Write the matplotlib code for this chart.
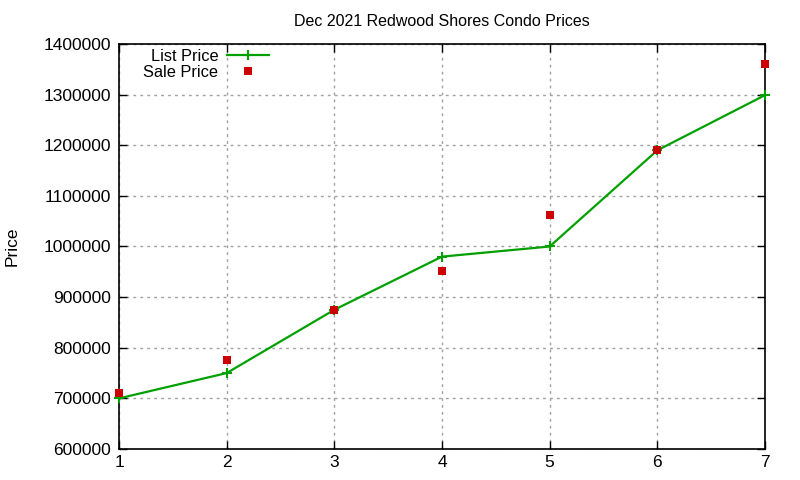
import matplotlib
matplotlib.use("Agg")
import matplotlib.pyplot as plt
from matplotlib.ticker import FixedLocator

plt.rcParams['font.family'] = ['Liberation Sans', 'DejaVu Sans']

# unit number along the x axis
units = [1, 2, 3, 4, 5, 6, 7]
list_price = [700000, 750000, 875000, 980000, 1000000, 1190000, 1299000]
sale_price = [711000, 775000, 875000, 951000, 1062000, 1191000, 1360000]

x_ticks = [1, 2, 3, 4, 5, 6, 7]
y_ticks = [600000, 700000, 800000, 900000, 1000000, 1100000, 1200000, 1300000, 1400000]

fig = plt.figure(figsize=(8, 4.8), dpi=100)
ax = fig.add_axes([119 / 800, 1 - 449 / 480, (765 - 119) / 800, (449 - 44) / 480])

ax.plot(units, list_price, color='#00a000', linewidth=1.6, marker='+',
        markersize=7, markeredgewidth=1.5, label='List Price', clip_on=False, zorder=3)
ax.plot(units, sale_price, linestyle='none', color='#cc0000', marker='s',
        markersize=6, markeredgewidth=0, label='Sale Price', clip_on=False, zorder=4)

ax.set_xlim(1, 7)
ax.set_ylim(600000, 1400000)
ax.xaxis.set_major_locator(FixedLocator(x_ticks))
ax.yaxis.set_major_locator(FixedLocator(y_ticks))
ax.set_yticklabels([str(v) for v in y_ticks])
ax.tick_params(direction='in', length=6, width=1, labelsize=12.5, top=True, right=True,
               colors='black')
ax.tick_params(axis='x', pad=4)
ax.tick_params(axis='y', pad=6)
ax.grid(True, color='#a0a0a0', linestyle=(0, (2, 3)), linewidth=1)
for s in ax.spines.values():
    s.set_linewidth(1.2)

ax.set_title('Dec 2021 Redwood Shores Condo Prices', fontsize=11.5, pad=13)
fig.text(12 / 800, 1 - 246 / 480, 'Price', rotation=90, fontsize=12.5, ha='center', va='center')

ax.legend(loc='upper left', bbox_to_anchor=(0.02, 1.017), frameon=False, markerfirst=False,
          fontsize=11.8, handlelength=2.6, handletextpad=0.5, labelspacing=0.1,
          borderaxespad=0.3)

fig.savefig('out.png', dpi=100)
